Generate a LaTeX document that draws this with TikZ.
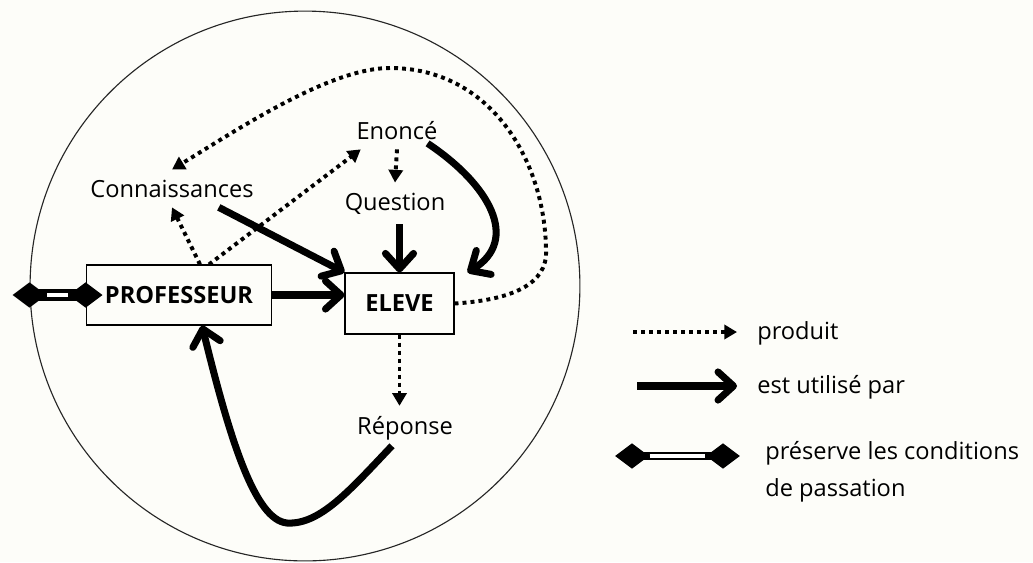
\documentclass[tikz,border=0pt]{standalone}
\usepackage{fontspec}
\setmainfont{Open Sans}
\usetikzlibrary{arrows.meta,calc,positioning}
\definecolor{fond}{RGB}{253,253,249}
\tikzstyle{mot} = [inner sep=7pt, font=\fontsize{16.8pt}{20pt}\selectfont]
\tikzstyle{acteur} = [draw, line width=0.8pt, font=\fontsize{16.8pt}{20pt}\selectfont\bfseries]
\tikzstyle{produit} = [line width=2.8pt, dash pattern=on 2.8pt off 2.9pt, -{Triangle[length=9pt,width=10pt]}]
\tikzstyle{utilise} = [line width=5pt, -{Straight Barb[round,length=11pt,width=20pt]}]
\tikzstyle{preserve} = [line width=8.5pt, {Diamond[length=24pt,width=18pt]}-{Diamond[length=24pt,width=18pt]}, shorten <=-12pt, shorten >=-12pt, postaction={draw=white, line width=2.6pt, -, shorten <=12.5pt, shorten >=12.5pt}]

\begin{document}
\begin{tikzpicture}[x=0.025cm, y=-0.025cm]
    \fill[fond] (0,0) rectangle (1033,562);
    \useasboundingbox (0,0) rectangle (1033,562);
    \node[draw=black!85, circle, line width=0.8pt, minimum size=391pt] (cercle) at (305,286) {};

    \node[mot, anchor=base] (enonce) at (397,139) {Enoncé};
    \node[mot, anchor=base] (question) at (395,210) {Question};
    \node[mot, anchor=base] (conn) at (172,197) {Connaissances};
    \node[mot, anchor=base] (reponse) at (405,434) {Réponse};
    \node[acteur, minimum width=132pt, minimum height=42.7pt] (prof) at (179,295) {PROFESSEUR};
    \node[acteur, minimum width=77.5pt, minimum height=43.4pt] (eleve) at (399.5,303.5) {ELEVE};

    % produit
    \draw[produit] ($(prof.north)+(21,0)$) -- (conn.south);
    \draw[produit] ($(prof.north)+(30,0)$) -- (enonce.-152);
    \draw[produit] (enonce.south) -- (question.north);
    \draw[produit] (eleve.south) -- (eleve.south |- reponse.north);
    \draw[produit] (eleve.east) .. controls (510,300) and (548,285) .. (546,250)
        .. controls (545,160) and (490,68) .. (390,68)
        .. controls (330,68) and (240,128) .. (conn.north);

    % est utilise par
    \draw[utilise] (conn.-22) -- (eleve.north west);
    \draw[utilise] (question.south -| eleve.north) -- (eleve.north);
    \draw[utilise] (prof.east) -- (prof.east -| eleve.west);
    \draw[utilise] ($(enonce.south east)+(-20,-6)$) .. controls (490,185) and (520,240) .. ($(eleve.north east)+(13,0)$);
    \draw[utilise] ($(reponse.south)+(-13,-4)$) .. controls (350,490) and (320,525) .. (287,523)
        .. controls (255,520) and (230,440) .. ($(prof.south)+(23,0)$);

    % preserve
    \draw[preserve] (prof.west -| cercle.west) -- (prof.west);

    % legende
    \coordinate (p1) at (633,332);
    \coordinate (p2) at (737,332);
    \draw[produit] (p1) -- (p2);
    \node[mot, anchor=base west, inner sep=0pt] (lp) at (757,339) {produit};
    \coordinate (u1) at (637,386);
    \coordinate (u2) at (737,386);
    \draw[utilise] (u1) -- (u2);
    \node[mot, anchor=base west, inner sep=0pt] (lu) at (757,393) {est utilisé par};
    \coordinate (k1) at (632,456);
    \coordinate (k2) at (723,456);
    \draw[preserve, line width=5.5pt, postaction={draw=white, line width=2pt, -, shorten <=12.5pt, shorten >=12.5pt}] (k1) -- (k2);
    \node[mot, anchor=base west, inner sep=0pt] (lk1) at (765,459) {préserve les conditions};
    \node[mot, anchor=base west, inner sep=0pt] (lk2) at (765,496) {de passation};
\end{tikzpicture}
\end{document}
